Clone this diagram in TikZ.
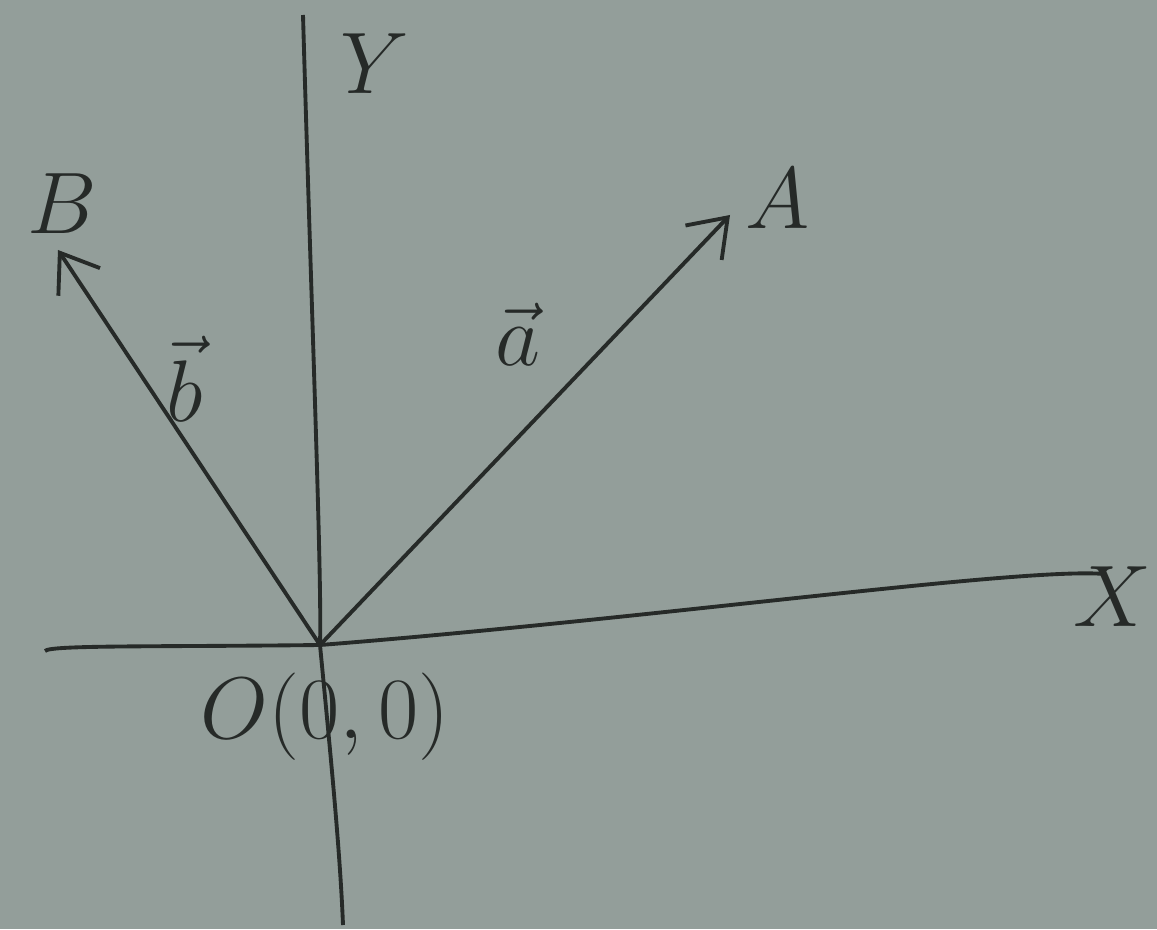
\documentclass[tikz,border=0pt]{standalone}
\usetikzlibrary{arrows.meta}
\definecolor{board}{HTML}{939E9A}
\definecolor{ink}{HTML}{262A28}
\begin{document}
\begin{tikzpicture}[
  axis/.style={draw=ink, line width=1.1pt},
  vec/.style={draw=ink, line width=1.1pt, -{Straight Barb[length=3.5mm,width=5mm]}},
  lab/.style={text=ink, font=\fontsize{26}{28}\selectfont, inner sep=0pt}
]
\fill[board] (0,0) rectangle (11.57,9.29);
\useasboundingbox (0,0) rectangle (11.57,9.29);
\coordinate (O) at (3.20,2.84);
\coordinate (Ytop) at (3.03,9.14);
\coordinate (Ybot) at (3.43,0.04);
\coordinate (Xleft) at (0.45,2.78);
\coordinate (Xright) at (11.05,3.55);
\coordinate (A) at (7.30,7.14);
\coordinate (B) at (0.58,6.79);
% axes
\draw[axis] (Ytop) .. controls (3.12,6.0) and (3.22,3.5) .. (O) .. controls (3.30,1.8) and (3.40,0.8) .. (Ybot);
\draw[axis] (Xleft) .. controls (0.50,2.84) and (1.5,2.82) .. (O) .. controls (6.5,3.1) and (10.2,3.62) .. (Xright);
% vectors
\draw[vec] (O) -- (A);
\draw[vec] (O) -- (B);
% labels
\node[lab] (Ylab) at (3.75,8.65) {$Y$};
\node[lab, anchor=east] (Xlab) at (11.52,3.32) {$X$};
\node[lab] (Alab) at (7.78,7.30) {$A$};
\node[lab] (Blab) at (0.62,7.25) {$B$};
\node[lab] (alab) at (5.18,5.95) {$\vec{a}$};
\node[lab] (blab) at (1.85,5.50) {$\vec{b}$};
\node[lab] (Olab) at (3.25,2.12) {$O(0,0)$};
\end{tikzpicture}
\end{document}
